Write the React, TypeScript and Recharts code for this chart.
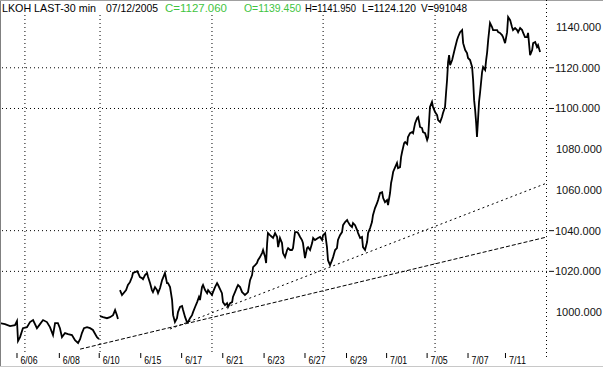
import React from 'react';
import { LineChart, Line, XAxis, YAxis, ReferenceLine } from 'recharts';

// time axis is in trading sessions from the 6/06 open, price is LAST (30 min bars)
const week1: [number, number | null][] = [
  [-0.84, 994.6], [-0.59, 994.1], [-0.34, 993.1], [-0.1, 993.6], [0.0, 995.6], [0.05, 985.8], [0.15, 987.7],
  [0.29, 992.1], [0.49, 992.6], [0.64, 995.1], [0.79, 996.1], [0.98, 992.1], [1.13, 994.1], [1.28, 996.1],
  [1.47, 995.1], [1.62, 992.6], [1.77, 988.7], [1.87, 994.6], [2.01, 994.6], [2.11, 992.1], [2.21, 987.7],
  [2.36, 989.7], [2.51, 989.2], [2.7, 988.7], [2.85, 986.2], [3.0, 984.8], [3.1, 986.7], [3.19, 989.7],
  [3.29, 992.1], [3.44, 992.6], [3.59, 992.1], [3.73, 991.2], [3.93, 987.7], [4.03, 986.7], [4.06, null],
  [4.08, 998.0], [4.23, 997.5], [4.42, 997.0], [4.57, 997.5], [4.72, 998.5], [4.82, 1001.0], [4.91, 998.5],
  [4.96, 996.6], [5.01, null],
];

const week2: [number, number | null][] = [
  [5.06, 1010.8], [5.16, 1008.4], [5.36, 1010.8], [5.45, 1013.3], [5.55, 1014.7], [5.65, 1017.2], [5.7, 1019.2],
  [5.8, 1019.6], [5.9, 1020.1], [5.95, 1019.2], [6.04, 1017.2], [6.14, 1016.7], [6.19, 1016.2], [6.29, 1018.2],
  [6.39, 1019.2], [6.44, 1017.2], [6.54, 1014.2], [6.63, 1010.8], [6.68, 1009.8], [6.78, 1012.3], [6.88, 1010.8],
  [6.93, 1009.3], [7.03, 1011.8], [7.13, 1015.7], [7.17, 1016.7], [7.27, 1019.2], [7.37, 1014.2], [7.42, 1014.2],
  [7.52, 1012.3], [7.62, 1005.9], [7.67, 998.5], [7.76, 995.1], [7.86, 997.0], [7.91, 1000.0], [8.01, 1002.5],
  [8.11, 1003.0], [8.16, 1001.0], [8.26, 997.5], [8.35, 995.1], [8.4, 995.1], [8.5, 997.0], [8.6, 998.5],
  [8.65, 1000.0], [8.75, 1002.5], [8.85, 1004.9], [8.94, 1007.4], [8.99, 1005.9], [9.09, 1012.3], [9.14, 1013.3],
  [9.24, 1010.8], [9.34, 1009.3], [9.39, 1010.8],
];

const week3: [number, number | null][] = [
  [9.58, 1008.4], [9.63, 1009.8], [9.73, 1012.3], [9.83, 1014.2], [9.88, 1013.3], [10.07, 1009.3], [10.12, 1004.9],
  [10.22, 1003.4], [10.32, 1004.4], [10.37, 1002.5], [10.47, 1004.4], [10.57, 1004.9], [10.61, 1007.4],
  [10.71, 1009.8], [10.81, 1012.3], [10.86, 1013.3], [10.96, 1012.3], [11.06, 1009.8], [11.11, 1009.3],
  [11.2, 1008.4], [11.3, 1009.3], [11.35, 1009.8], [11.45, 1015.7], [11.55, 1018.2], [11.6, 1022.1],
  [11.7, 1023.1], [11.79, 1024.1], [11.84, 1025.5], [11.94, 1027.0], [12.04, 1029.0], [12.09, 1030.5],
  [12.19, 1027.0], [12.24, 1024.1], [12.29, 1033.9], [12.33, 1038.8], [12.43, 1037.8], [12.53, 1036.9],
  [12.58, 1036.4], [12.68, 1038.8], [12.78, 1036.9], [12.83, 1031.9], [12.92, 1036.4], [13.02, 1033.9],
  [13.07, 1029.0], [13.17, 1027.0], [13.27, 1030.5], [13.32, 1031.4], [13.42, 1030.5], [13.51, 1030.5],
  [13.56, 1031.4], [13.66, 1039.3], [13.76, 1039.3], [13.81, 1038.8], [13.91, 1036.9], [14.0, 1035.4],
  [14.05, 1033.9], [14.15, 1026.5], [14.25, 1031.4], [14.3, 1031.9], [14.4, 1030.5], [14.5, 1033.9],
  [14.55, 1036.4], [14.64, 1035.4], [14.79, 1036.4], [14.89, 1036.9], [14.99, 1035.4],
];

const week4: [number, number | null][] = [
  [15.04, 1037.8], [15.14, 1038.8], [15.23, 1031.9], [15.28, 1025.5], [15.38, 1023.1], [15.48, 1025.5],
  [15.53, 1027.0], [15.63, 1030.5], [15.72, 1031.4], [15.77, 1035.4], [15.87, 1037.8], [15.97, 1039.3],
  [16.02, 1042.7], [16.12, 1044.2], [16.22, 1045.2], [16.27, 1044.2], [16.36, 1042.7], [16.46, 1041.8],
  [16.51, 1043.7], [16.61, 1042.7], [16.71, 1040.3], [16.76, 1038.8], [16.86, 1036.4], [16.95, 1036.9],
  [17.0, 1031.9], [17.1, 1030.5], [17.2, 1034.4], [17.25, 1038.8], [17.35, 1041.3], [17.44, 1044.2],
  [17.49, 1047.6], [17.59, 1051.1], [17.69, 1053.5], [17.74, 1055.0], [17.84, 1058.5], [17.94, 1058.9],
  [17.99, 1056.0], [18.08, 1054.0], [18.18, 1055.0], [18.23, 1052.6], [18.33, 1058.5], [18.38, 1063.4],
  [18.43, 1065.8], [18.48, 1068.8], [18.58, 1071.2], [18.67, 1073.2], [18.72, 1070.7], [18.82, 1071.2],
  [18.87, 1076.1], [18.92, 1078.6], [19.02, 1083.0], [19.07, 1083.5], [19.17, 1082.5], [19.21, 1086.0],
  [19.31, 1087.9], [19.41, 1088.4], [19.46, 1087.9], [19.56, 1092.8], [19.66, 1095.3], [19.71, 1095.8],
  [19.76, 1093.3], [19.8, 1090.9], [19.9, 1090.4], [19.95, 1088.4], [20.05, 1087.9], [20.15, 1084.5],
  [20.2, 1086.0], [20.29, 1100.7], [20.39, 1103.2], [20.44, 1100.7],
];

const week5: [number, number | null][] = [
  [20.54, 1098.3], [20.64, 1096.8], [20.69, 1094.3], [20.79, 1093.3], [20.88, 1095.8], [20.93, 1097.8],
  [21.03, 1100.7], [21.08, 1107.6], [21.13, 1114.0], [21.18, 1122.8], [21.23, 1126.2], [21.28, 1121.3],
  [21.38, 1123.8], [21.52, 1129.7], [21.62, 1133.6], [21.67, 1135.1], [21.77, 1137.5], [21.87, 1138.5],
  [21.92, 1132.1], [22.02, 1128.7], [22.11, 1127.2], [22.16, 1124.8], [22.26, 1123.8], [22.36, 1120.4],
  [22.41, 1114.0], [22.46, 1104.1], [22.51, 1099.2], [22.56, 1092.8], [22.6, 1086.0], [22.65, 1094.3],
  [22.7, 1103.2], [22.75, 1107.6], [22.85, 1117.9], [22.9, 1120.4], [23.0, 1118.9], [23.05, 1123.8],
  [23.1, 1127.7], [23.15, 1133.6], [23.24, 1142.0], [23.34, 1140.0], [23.39, 1138.5], [23.59, 1138.5],
  [23.64, 1137.5], [23.73, 1137.1], [23.83, 1136.1], [23.88, 1135.1], [23.98, 1132.1],
];

const week6: [number, number | null][] = [
  [24.08, 1137.5], [24.13, 1144.9], [24.23, 1143.4], [24.32, 1140.0], [24.37, 1138.5], [24.47, 1139.5],
  [24.57, 1138.5], [24.62, 1137.5], [24.72, 1139.5], [24.82, 1138.5], [24.87, 1137.1], [24.96, 1135.1],
  [25.06, 1135.1], [25.11, 1137.1], [25.21, 1126.2], [25.31, 1128.7], [25.36, 1132.1], [25.46, 1132.6],
  [25.55, 1130.2], [25.6, 1131.1], [25.7, 1127.7],
];

const dayTicks = [0, 2.08, 4.04, 6.08, 8.09, 10.11, 12.14, 14.15, 16.19, 18.16, 20.15, 22.16, 24.0];
const dayLabels = ['6/06', '6/08', '6/10', '6/15', '6/17', '6/21', '6/23', '6/27', '6/29', '7/01', '7/05', '7/07', '7/11'];
const priceTicks = [1000, 1020, 1040, 1060, 1080, 1100, 1120, 1140];
const gridPrices = [1020, 1040, 1100, 1120];
const gridDays = [0.39, 4.08, 9.58, 15.04, 20.54];
const trendLow: [number, number][] = [[3.1, 981.8], [26.04, 1036.9]];
const trendHigh: [number, number][] = [[7.52, 991.7], [26.04, 1063.4]];

const header = [
  { text: 'LKOH LAST-30 min', left: 2, width: 94, color: '#000' },
  { text: '07/12/2005', left: 106, width: 52, color: '#000' },
  { text: 'C=1127.060', left: 165, width: 62, color: '#3fc43f' },
  { text: 'O=1139.450', left: 244, width: 57, color: '#3fc43f' },
  { text: 'H=1141.950', left: 305, width: 51, color: '#000' },
  { text: 'L=1124.120', left: 362, width: 54, color: '#000' },
  { text: 'V=991048', left: 421, width: 46, color: '#000' },
];

const data = [...week1, ...week2, ...week3, ...week4, ...week5, ...week6].map(([t, p]) => ({ t, p }));

const FONT = "'Liberation Sans', Arial, sans-serif";

const DayTick = (props: any) => {
  const { x, y, payload } = props;
  const i = dayTicks.indexOf(payload.value);
  return (
    <g>
      <line x1={x} x2={x} y1={y + 1} y2={y + 6} stroke="#000" strokeWidth={1} />
      <text x={x + 3.5} y={y + 12} fontSize={10.5} fontFamily={FONT} fill="#000" textLength={17} lengthAdjust="spacingAndGlyphs">
        {dayLabels[i]}
      </text>
    </g>
  );
};

const PriceTick = (props: any) => {
  const { x, y, payload } = props;
  const marked = gridPrices.includes(payload.value);
  return (
    <g>
      {marked && <line x1={x + 2} x2={x + 7} y1={y} y2={y} stroke="#111" strokeWidth={1} />}
      <text x={x + (marked ? 8 : 9)} y={y + 4} fontSize={11} fontFamily={FONT} fill="#111">
        {payload.value.toFixed(3)}
      </text>
    </g>
  );
};

export default function App() {
  return (
    <div style={{ position: 'absolute', left: 0, top: 0, width: 603, height: 369, overflow: 'hidden', background: '#fff' }}>
      <LineChart width={603} height={369} data={data} margin={{ top: 13, right: 0, bottom: 0, left: 0 }}>
        <XAxis
          dataKey="t"
          type="number"
          domain={[-0.835, 26.04]}
          allowDataOverflow
          ticks={dayTicks}
          interval={0}
          tick={DayTick}
          axisLine={false}
          tickLine={false}
          tickSize={0}
          tickMargin={0}
          height={17}
        />
        <YAxis
          orientation="right"
          type="number"
          domain={[980.4, 1146.9]}
          allowDataOverflow
          ticks={priceTicks}
          interval={0}
          tick={PriceTick}
          axisLine={false}
          tickLine={false}
          tickSize={0}
          tickMargin={0}
          width={56}
        />
        {gridPrices.map((v) => (
          <ReferenceLine key={'h' + v} y={v} stroke="#000" strokeDasharray="1 3" />
        ))}
        {gridDays.map((v) => (
          <ReferenceLine key={'v' + v} x={v} stroke="#000" strokeDasharray="1 3" />
        ))}
        <ReferenceLine
          segment={trendLow.map(([x, y]) => ({ x, y }))}
          stroke="#000"
          strokeDasharray="4 2"
        />
        <ReferenceLine
          segment={trendHigh.map(([x, y]) => ({ x, y }))}
          stroke="#000"
          strokeDasharray="2 3"
        />
        <Line
          dataKey="p"
          type="linear"
          stroke="#000"
          strokeWidth={1.8}
          dot={false}
          activeDot={false}
          connectNulls={false}
          isAnimationActive={false}
        />
      </LineChart>
      <svg width={603} height={369} style={{ position: 'absolute', left: 0, top: 0, pointerEvents: 'none' }}>
        <line x1={0.5} x2={0.5} y1={0} y2={367} stroke="#808080" />
        <line x1={0} x2={603} y1={0.5} y2={0.5} stroke="#a0a0a0" />
        <line x1={0} x2={603} y1={366.5} y2={366.5} stroke="#c8c8c8" />
        <line x1={546.5} x2={546.5} y1={0} y2={357} stroke="#000" strokeDasharray="1 3" />
        {header.map((h) => (
          <text
            key={h.text}
            x={h.left}
            y={11.5}
            fontFamily={FONT}
            fontSize={11}
            fill={h.color}
            textLength={h.width}
            lengthAdjust="spacingAndGlyphs"
          >
            {h.text}
          </text>
        ))}
      </svg>
    </div>
  );
}
